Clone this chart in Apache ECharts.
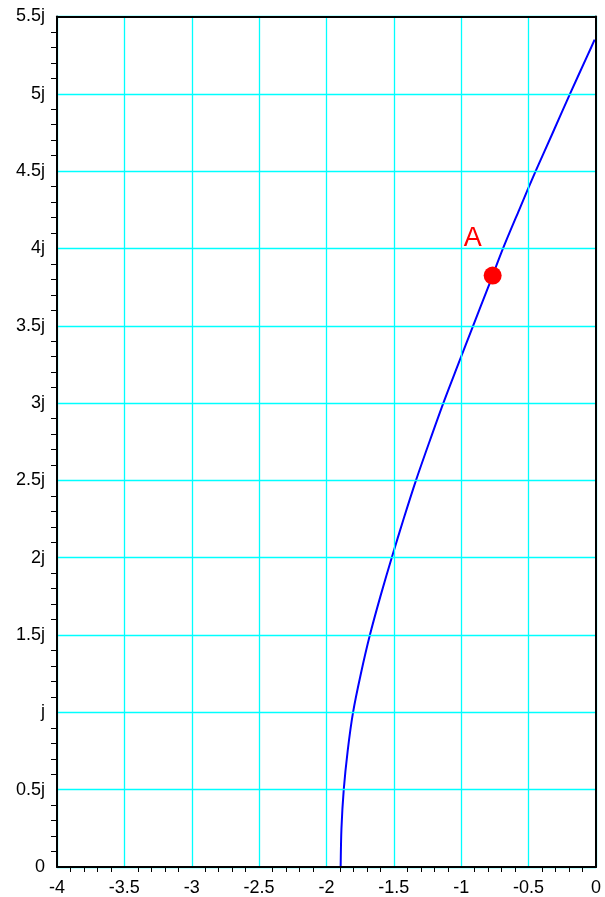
<!DOCTYPE html>
<html>
<head>
<meta charset="utf-8">
<script src="https://cdn.jsdelivr.net/npm/echarts@6/dist/echarts.min.js"></script>
<style>
html,body{margin:0;padding:0;background:#fff;}
#chart{width:605px;height:897px;}
</style>
</head>
<body>
<div id="chart"></div>
<script>
// Curve (real part, imaginary part)
const curveRe = [-1.895, -1.889, -1.872, -1.843, -1.803, -1.745, -1.678, -1.600, -1.516, -1.428, -1.336, -1.236, -1.133, -1.023, -0.912, -0.800, -0.690, -0.570, -0.448, -0.320, -0.193, -0.062, -0.010];
const curveIm = [0.00, 0.25, 0.50, 0.75, 1.00, 1.25, 1.50, 1.75, 2.00, 2.25, 2.50, 2.75, 3.00, 3.25, 3.50, 3.75, 4.00, 4.25, 4.50, 4.75, 5.00, 5.25, 5.35];
// Marked point A
const pointName = 'A';
const pointRe = -0.767;
const pointIm = 3.825;
// Tick labels
const xTickLabels = ['-4', '-3.5', '-3', '-2.5', '-2', '-1.5', '-1', '-0.5', '0'];
const yTickLabels = ['0', '0.5j', 'j', '1.5j', '2j', '2.5j', '3j', '3.5j', '4j', '4.5j', '5j', '5.5j'];

const FONT = 'Liberation Sans, Arial, Helvetica, sans-serif';
const chart = echarts.init(document.getElementById('chart'));
const borderAxis = { show: true, onZero: false, lineStyle: { color: '#000', width: 2 } };
const gridLine = { show: true, lineStyle: { color: '#00ffff', width: 1.3 } };
chart.setOption({
  animation: false,
  backgroundColor: '#fff',
  grid: { left: 57, right: 9, top: 16.5, bottom: 30 },
  xAxis: [{
    type: 'value', min: -4, max: 0, interval: 0.5,
    axisLine: borderAxis,
    axisTick: { show: false },
    minorTick: { show: true, splitNumber: 5, length: 5, lineStyle: { color: '#000', width: 1 } },
    axisLabel: {
      color: '#000', fontSize: 18, fontFamily: FONT, margin: 12,
      formatter: (v) => xTickLabels[Math.round((v + 4) / 0.5)]
    },
    splitLine: gridLine,
    minorSplitLine: { show: false },
    z: 5
  }, {
    type: 'value', min: -4, max: 0, position: 'top',
    axisLine: borderAxis, axisTick: { show: false }, axisLabel: { show: false },
    splitLine: { show: false }, z: 5
  }],
  yAxis: [{
    type: 'value', min: 0, max: 5.5, interval: 0.5,
    axisLine: borderAxis,
    axisTick: { show: false },
    minorTick: { show: true, splitNumber: 5, length: 6, lineStyle: { color: '#000', width: 1 } },
    axisLabel: {
      color: '#000', fontSize: 18, fontFamily: FONT, margin: 12,
      formatter: (v) => yTickLabels[Math.round(v / 0.5)]
    },
    splitLine: gridLine,
    z: 5
  }, {
    type: 'value', min: 0, max: 5.5, position: 'right',
    axisLine: borderAxis, axisTick: { show: false }, axisLabel: { show: false },
    splitLine: { show: false }, z: 5
  }],
  series: [
    {
      type: 'line',
      data: curveRe.map((x, i) => [x, curveIm[i]]),
      showSymbol: false,
      smooth: 0.3,
      lineStyle: { color: '#0000ff', width: 2 },
      z: 3
    },
    {
      type: 'scatter',
      data: [[pointRe, pointIm]],
      symbolSize: 18,
      itemStyle: { color: '#ff0000', opacity: 1 },
      label: {
        show: true, formatter: pointName, position: 'inside', offset: [-20, -37],
        color: '#ff0000', fontSize: 27, fontFamily: FONT
      },
      z: 4
    }
  ]
});
</script>
</body>
</html>
